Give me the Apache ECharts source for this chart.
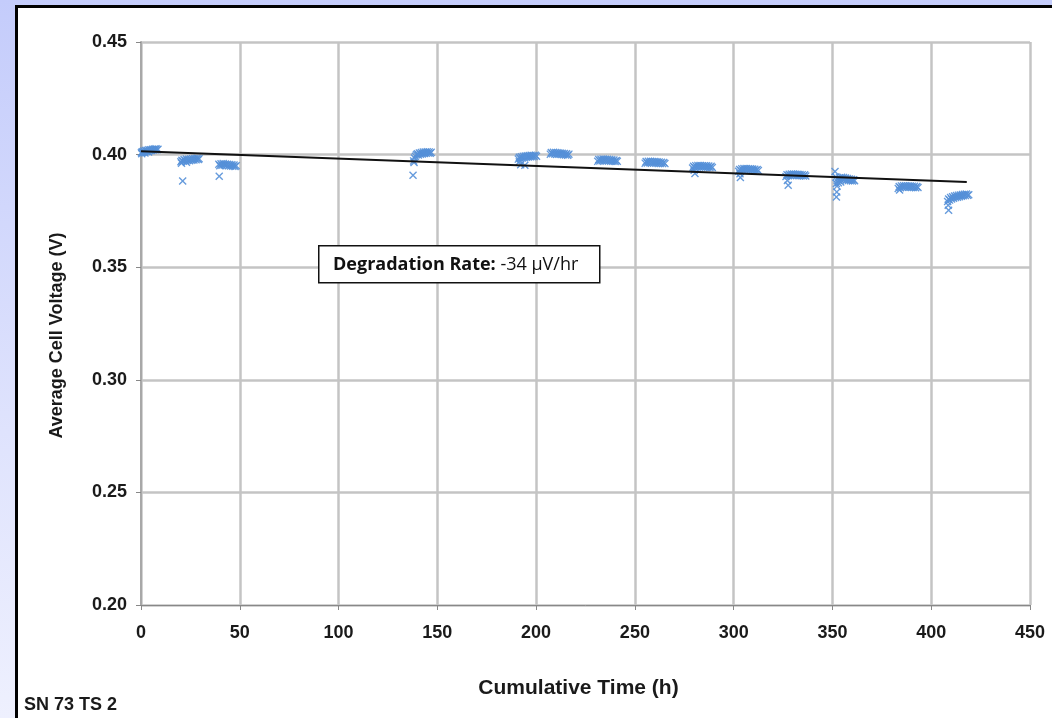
<!DOCTYPE html>
<html>
<head>
<meta charset="utf-8">
<script src="https://cdn.jsdelivr.net/npm/echarts@6/dist/echarts.min.js"></script>
<style>
html,body{margin:0;padding:0;width:1052px;height:718px;overflow:hidden;}
body{background:linear-gradient(to bottom,#c4ccfb 0%,#dfe3fd 60%,#eef0fe 100%);position:relative;}
#panel{position:absolute;left:15px;top:5px;width:1100px;height:800px;border-left:3px solid #000;border-top:3px solid #000;background:#fff;}
#chart{position:absolute;left:0;top:0;width:1052px;height:718px;z-index:1;}
</style>
</head>
<body>
<div id="panel"></div>
<div id="chart"></div>
<script>
// Axis ticks
const xTicks = [0, 50, 100, 150, 200, 250, 300, 350, 400, 450];
const yTicks = [0.20, 0.25, 0.30, 0.35, 0.40, 0.45];

// Measured cell voltage, clusters of [hours, volts]
const run1 = [[0.2,0.4008],[0.6,0.4013],[1.0,0.4010],[1.4,0.4016],[1.8,0.4012],[2.3,0.4018],[2.7,0.4014],[3.1,0.4019],[3.6,0.4015],[4.0,0.4021],[4.5,0.4017],[4.9,0.4022],[5.4,0.4018],[5.8,0.4024],[6.3,0.4020],[6.7,0.4025],[7.2,0.4021],[7.6,0.4026],[8.1,0.4022],[8.6,0.4024],[0.4,0.4004],[2.0,0.4007],[3.8,0.4011]];
const run2 = [[20.2,0.3968],[20.7,0.3975],[21.3,0.3970],[21.8,0.3978],[22.4,0.3972],[22.9,0.3980],[23.5,0.3974],[24.0,0.3979],[24.6,0.3973],[25.1,0.3981],[25.7,0.3975],[26.2,0.3982],[26.8,0.3976],[27.3,0.3983],[27.9,0.3977],[28.4,0.3984],[29.0,0.3978],[29.4,0.3982],[20.5,0.3962],[23.0,0.3966],[21.1,0.3883]];
const run3 = [[39.4,0.3957],[39.9,0.3951],[40.5,0.3959],[41.0,0.3953],[41.6,0.3960],[42.1,0.3954],[42.7,0.3958],[43.2,0.3952],[43.8,0.3957],[44.3,0.3950],[44.9,0.3956],[45.4,0.3949],[46.0,0.3955],[46.5,0.3948],[47.1,0.3954],[47.6,0.3947],[48.2,0.3951],[39.6,0.3904]];
const run4 = [[138.0,0.3972],[138.4,0.3985],[138.9,0.3993],[139.4,0.3999],[139.9,0.4004],[140.4,0.3998],[140.9,0.4007],[141.4,0.4001],[141.9,0.4009],[142.4,0.4003],[142.9,0.4011],[143.4,0.4005],[143.9,0.4012],[144.4,0.4006],[144.9,0.4013],[145.4,0.4007],[145.9,0.4012],[146.4,0.4006],[146.9,0.4010],[138.2,0.3965],[137.7,0.3908]];
const run5 = [[191.0,0.3980],[191.5,0.3988],[192.0,0.3983],[192.5,0.3991],[193.0,0.3985],[193.5,0.3993],[194.0,0.3986],[194.5,0.3994],[195.0,0.3988],[195.5,0.3995],[196.0,0.3989],[196.5,0.3996],[197.0,0.3990],[197.5,0.3997],[198.0,0.3991],[198.5,0.3996],[199.0,0.3992],[199.6,0.3997],[200.2,0.3993],[192.2,0.3955],[194.3,0.3953],[191.5,0.3968]];
const run6 = [[207.2,0.4002],[207.7,0.4009],[208.3,0.4004],[208.8,0.4010],[209.4,0.4003],[209.9,0.4009],[210.5,0.4002],[211.0,0.4008],[211.6,0.4001],[212.1,0.4007],[212.7,0.4000],[213.2,0.4006],[213.8,0.3999],[214.3,0.4005],[214.9,0.3998],[215.4,0.4004],[216.0,0.3997],[216.6,0.4002]];
const run7 = [[231.2,0.3970],[231.7,0.3978],[232.3,0.3972],[232.8,0.3979],[233.4,0.3973],[233.9,0.3980],[234.5,0.3974],[235.0,0.3979],[235.6,0.3973],[236.1,0.3979],[236.7,0.3972],[237.2,0.3978],[237.8,0.3971],[238.3,0.3977],[238.9,0.3970],[239.4,0.3976],[240.0,0.3969],[240.6,0.3974],[241.1,0.3970]];
const run8 = [[255.2,0.3962],[255.7,0.3969],[256.3,0.3963],[256.8,0.3970],[257.4,0.3964],[257.9,0.3970],[258.5,0.3964],[259.0,0.3969],[259.6,0.3963],[260.1,0.3969],[260.7,0.3962],[261.2,0.3968],[261.8,0.3961],[262.3,0.3967],[262.9,0.3961],[263.4,0.3966],[264.0,0.3960],[264.6,0.3965],[265.2,0.3960]];
const run9 = [[279.2,0.3940],[279.7,0.3948],[280.3,0.3943],[280.8,0.3951],[281.4,0.3945],[281.9,0.3952],[282.5,0.3946],[283.0,0.3952],[283.6,0.3946],[284.1,0.3951],[284.7,0.3945],[285.2,0.3951],[285.8,0.3944],[286.3,0.3950],[286.9,0.3944],[287.4,0.3949],[288.0,0.3943],[288.6,0.3948],[289.2,0.3943],[280.0,0.3930],[280.4,0.3916]];
const run10 = [[302.5,0.3926],[303.0,0.3934],[303.6,0.3929],[304.1,0.3937],[304.7,0.3931],[305.2,0.3938],[305.8,0.3932],[306.3,0.3938],[306.9,0.3932],[307.4,0.3937],[308.0,0.3931],[308.5,0.3937],[309.1,0.3930],[309.6,0.3936],[310.2,0.3930],[310.7,0.3935],[311.3,0.3929],[311.9,0.3934],[312.5,0.3929],[303.2,0.3915],[303.4,0.3898]];
const run11 = [[326.5,0.3903],[327.0,0.3911],[327.6,0.3906],[328.1,0.3913],[328.7,0.3907],[329.2,0.3914],[329.8,0.3908],[330.3,0.3914],[330.9,0.3908],[331.4,0.3913],[332.0,0.3907],[332.5,0.3913],[333.1,0.3906],[333.6,0.3912],[334.2,0.3906],[334.7,0.3911],[335.3,0.3905],[335.9,0.3910],[336.5,0.3905],[327.2,0.3885],[327.6,0.3864]];
const run12 = [[351.3,0.3925],[351.8,0.3900],[352.0,0.3872],[352.3,0.3860],[352.2,0.3834],[352.0,0.3812],[352.6,0.3893],[353.1,0.3886],[353.6,0.3897],[354.1,0.3889],[354.6,0.3899],[355.1,0.3890],[355.6,0.3898],[356.1,0.3889],[356.6,0.3896],[357.1,0.3887],[357.6,0.3894],[358.1,0.3885],[358.6,0.3892],[359.1,0.3884],[359.6,0.3890],[360.1,0.3883],[360.7,0.3888],[361.2,0.3884],[353.0,0.3875],[354.2,0.3878]];
const run13 = [[383.3,0.3850],[383.8,0.3858],[384.4,0.3853],[384.9,0.3861],[385.5,0.3855],[386.0,0.3862],[386.6,0.3856],[387.1,0.3862],[387.7,0.3856],[388.2,0.3861],[388.8,0.3855],[389.3,0.3861],[389.9,0.3854],[390.4,0.3860],[391.0,0.3854],[391.5,0.3859],[392.1,0.3853],[392.7,0.3858],[393.3,0.3854],[384.0,0.3843]];
const run14 = [[408.3,0.3792],[408.6,0.3775],[408.8,0.3753],[408.8,0.3803],[409.3,0.3798],[409.8,0.3809],[410.3,0.3803],[410.8,0.3813],[411.3,0.3806],[411.8,0.3816],[412.3,0.3809],[412.8,0.3818],[413.3,0.3811],[413.8,0.3820],[414.3,0.3813],[414.8,0.3821],[415.3,0.3815],[415.8,0.3823],[416.3,0.3817],[416.8,0.3824],[417.3,0.3818],[417.8,0.3825],[418.4,0.3819],[419.0,0.3822]];

// Linear fit line endpoints [hours, volts]
const trendLine = [[0, 0.4015], [418, 0.3878]];

const annotationBold = 'Degradation Rate:';
const annotationValue = ' -34 µV/hr';
const cornerLabel = 'SN 73 TS 2';

const allPoints = [].concat(run1, run2, run3, run4, run5, run6, run7, run8, run9, run10, run11, run12, run13, run14);

const chart = echarts.init(document.getElementById('chart'), null, {renderer: 'canvas'});
const xPath = 'path://M0,1.2L1.2,0L5,3.8L8.8,0L10,1.2L6.2,5L10,8.8L8.8,10L5,6.2L1.2,10L0,8.8L3.8,5Z';
const fontMain = 'Liberation Sans, Arial, sans-serif';

chart.setOption({
  backgroundColor: 'transparent',
  animation: false,
  grid: {left: 141, top: 42, right: 22, bottom: 113, containLabel: false},
  xAxis: {
    type: 'value', min: xTicks[0], max: xTicks[xTicks.length - 1], interval: xTicks[1] - xTicks[0],
    name: 'Cumulative Time (h)', nameLocation: 'middle', nameGap: 73,
    nameTextStyle: {fontFamily: fontMain, fontWeight: 'bold', fontSize: 21, color: '#1a1a1a', padding: [0, 14, 0, 0]},
    axisLine: {show: true, onZero: false, lineStyle: {color: '#888', width: 1}},
    axisTick: {show: true, inside: false, length: 5, lineStyle: {color: '#888'}},
    axisLabel: {fontFamily: fontMain, fontWeight: 'bold', fontSize: 18, color: '#1a1a1a', margin: 19},
    splitLine: {show: true, lineStyle: {color: '#c4c4c4', width: 2.5}}
  },
  yAxis: {
    type: 'value', min: yTicks[0], max: yTicks[yTicks.length - 1], interval: 0.05,
    name: 'Average Cell Voltage (V)', nameLocation: 'middle', nameGap: 75,
    nameTextStyle: {fontFamily: fontMain, fontWeight: 'bold', fontSize: 18, color: '#1a1a1a', padding: [0, 24, 0, 0]},
    axisLine: {show: true, lineStyle: {color: '#a8a8a8', width: 2}},
    axisTick: {show: true, inside: false, length: 5, lineStyle: {color: '#888'}},
    axisLabel: {fontFamily: fontMain, fontWeight: 'bold', fontSize: 18, color: '#1a1a1a', margin: 14,
      formatter: v => v.toFixed(2)},
    splitLine: {show: true, lineStyle: {color: '#c4c4c4', width: 2.5}}
  },
  series: [
    {
      type: 'scatter', data: allPoints, symbol: xPath, symbolSize: 8,
      itemStyle: {color: '#5590d8', opacity: 0.9}, z: 3
    },
    {
      type: 'line', data: trendLine, symbol: 'none', z: 4,
      lineStyle: {color: '#111', width: 2}
    }
  ],
  graphic: [
    {
      type: 'rect', left: 318, top: 245, z: 100, zlevel: 1,
      shape: {x: 0, y: 0, width: 281, height: 37},
      style: {fill: '#fff', stroke: '#111', lineWidth: 1.5}
    },
    {
      type: 'text', left: 333, top: 256, z: 101, zlevel: 1,
      style: {
        text: '{b|' + annotationBold + '}{n|' + annotationValue + '}',
        rich: {
          b: {fontFamily: 'Open Sans, sans-serif', fontWeight: 'bold', fontSize: 18, fill: '#111'},
          n: {fontFamily: 'Open Sans, sans-serif', fontSize: 18, fill: '#111'}
        }
      }
    },
    {
      type: 'text', left: 24, top: 696, z: 101, zlevel: 1,
      style: {text: cornerLabel, fontFamily: fontMain, fontWeight: 'bold', fontSize: 18, fill: '#1a1a1a'}
    }
  ]
});
</script>
</body>
</html>
